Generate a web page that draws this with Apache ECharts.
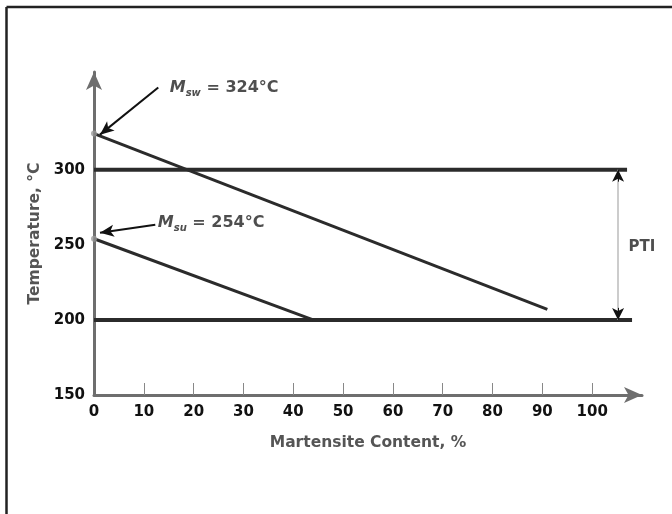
<!DOCTYPE html>
<html>
<head>
<meta charset="utf-8">
<script src="https://cdn.jsdelivr.net/npm/echarts@6/dist/echarts.min.js"></script>
<style>
  html, body { margin: 0; padding: 0; background: #fff; }
  #chart { width: 672px; height: 514px; }
</style>
</head>
<body>
<div id="chart"></div>
<script>
// tick labels
const xLabels = [0, 10, 20, 30, 40, 50, 60, 70, 80, 90, 100];
const xTickMarks = [10, 20, 30, 40, 50, 60, 70, 80, 90, 100];
const yLabels = [150, 200, 250, 300];

// PTI band limits (horizontal lines)
const upperLine = [[0, 300], [107, 300]];
const lowerLine = [[0, 200], [108, 200]];

// martensite lines
const mswLine = [[0, 324], [91, 207]];
const msuLine = [[0, 254], [44, 200]];
const startPoints = [[0, 324], [0, 254]];

// annotation arrows: [from, to]
const mswArrow = [[12.9, 354.7], [1.2, 323.3]];
const msuArrow = [[12.3, 263.3], [1.2, 258]];
const mswText = [14.2, 354.7];
const msuText = [11.8, 264.7];

// PTI arrow
const ptiX = 105.2;
const ptiText = [110, 248.7];

const ink = '#2b2b2b';
const axisGray = '#6e6e6e';
const font = 'DejaVu Sans';

const chart = echarts.init(document.getElementById('chart'));

const richLabel = {
    m: { fontFamily: font, fontSize: 16, fontWeight: 'bold', fontStyle: 'italic', color: '#222' },
    s: { fontFamily: font, fontSize: 10, fontWeight: 'bold', fontStyle: 'italic', color: '#222', padding: [11, 0, 0, 0] },
    t: { fontFamily: font, fontSize: 16, fontWeight: 'bold', color: '#222' }
};

chart.setOption({
    animation: false,
    grid: { left: 94, right: 30, top: 72, bottom: 119 },
    graphic: [
        { type: 'line', shape: { x1: 6.5, y1: 7, x2: 672, y2: 7 }, style: { stroke: '#222', lineWidth: 2.5 } },
        { type: 'line', shape: { x1: 6.5, y1: 7, x2: 6.5, y2: 514 }, style: { stroke: '#222', lineWidth: 2.5 } }
    ],
    xAxis: {
        type: 'value',
        min: 0,
        max: 110,
        interval: 10,
        name: 'Martensite Content, %',
        nameLocation: 'middle',
        nameGap: 40,
        nameTextStyle: { fontFamily: font, fontSize: 15.5, fontWeight: 'bold', color: '#555' },
        axisLine: { lineStyle: { color: axisGray, width: 3 }, symbol: ['none', 'arrow'], symbolSize: [12, 18] },
        axisTick: { inside: true, length: 12, lineStyle: { color: '#888', width: 1 }, customValues: xTickMarks },
        axisLabel: { margin: 10, fontFamily: font, fontSize: 15, fontWeight: 'bold', color: '#111', customValues: xLabels },
        splitLine: { show: false }
    },
    yAxis: {
        type: 'value',
        min: 150,
        max: 365,
        name: 'Temperature, °C',
        nameLocation: 'middle',
        nameRotate: 90,
        nameGap: 50,
        nameTextStyle: { fontFamily: font, fontSize: 15.5, fontWeight: 'bold', color: '#555' },
        axisLine: { show: true, lineStyle: { color: axisGray, width: 3 }, symbol: ['none', 'arrow'], symbolSize: [12, 18] },
        axisTick: { show: false },
        axisLabel: { margin: 9, fontFamily: font, fontSize: 15, fontWeight: 'bold', color: '#111', customValues: yLabels },
        splitLine: { show: false }
    },
    series: [
        { type: 'line', data: upperLine, symbol: 'none', lineStyle: { color: ink, width: 4 } },
        { type: 'line', data: lowerLine, symbol: 'none', lineStyle: { color: ink, width: 4 } },
        { type: 'line', data: mswLine, symbol: 'none', lineStyle: { color: ink, width: 3 } },
        { type: 'line', data: msuLine, symbol: 'none', lineStyle: { color: ink, width: 3 } },
        {
            type: 'scatter',
            data: startPoints,
            symbolSize: 6,
            itemStyle: { color: '#9a9a9a' },
            z: 5
        },
        {
            type: 'scatter',
            symbolSize: 0,
            data: [
                { value: mswText, label: { formatter: '{m|M}{s|sw}{t| = 324°C}' } },
                { value: msuText, label: { formatter: '{m|M}{s|su}{t| = 254°C}' } }
            ],
            label: { show: true, position: 'right', distance: 5, rich: richLabel },
            markLine: {
                silent: true,
                symbol: ['none', 'arrow'],
                symbolSize: [9, 14],
                label: { show: false },
                lineStyle: { color: '#111', width: 2, type: 'solid' },
                data: [
                    [{ coord: mswArrow[0] }, { coord: mswArrow[1] }],
                    [{ coord: msuArrow[0] }, { coord: msuArrow[1] }]
                ]
            }
        },
        {
            type: 'scatter',
            symbolSize: 0,
            data: [{ value: ptiText }],
            label: {
                show: true,
                position: 'inside',
                formatter: 'PTI',
                fontFamily: font,
                fontSize: 15,
                fontWeight: 'bold',
                color: '#222'
            },
            markLine: {
                silent: true,
                symbol: 'none',
                label: { show: false },
                lineStyle: { color: '#bbb', width: 1.5, type: 'solid' },
                data: [[{ coord: [ptiX, 300] }, { coord: [ptiX, 200] }]]
            }
        },
        {
            type: 'line',
            data: [],
            markLine: {
                silent: true,
                symbol: ['none', 'arrow'],
                symbolSize: [9, 12],
                label: { show: false },
                lineStyle: { color: '#111', width: 1, type: 'solid' },
                data: [
                    [{ coord: [ptiX, 292] }, { coord: [ptiX, 300] }],
                    [{ coord: [ptiX, 208] }, { coord: [ptiX, 200] }]
                ]
            }
        }
    ]
});
</script>
</body>
</html>
